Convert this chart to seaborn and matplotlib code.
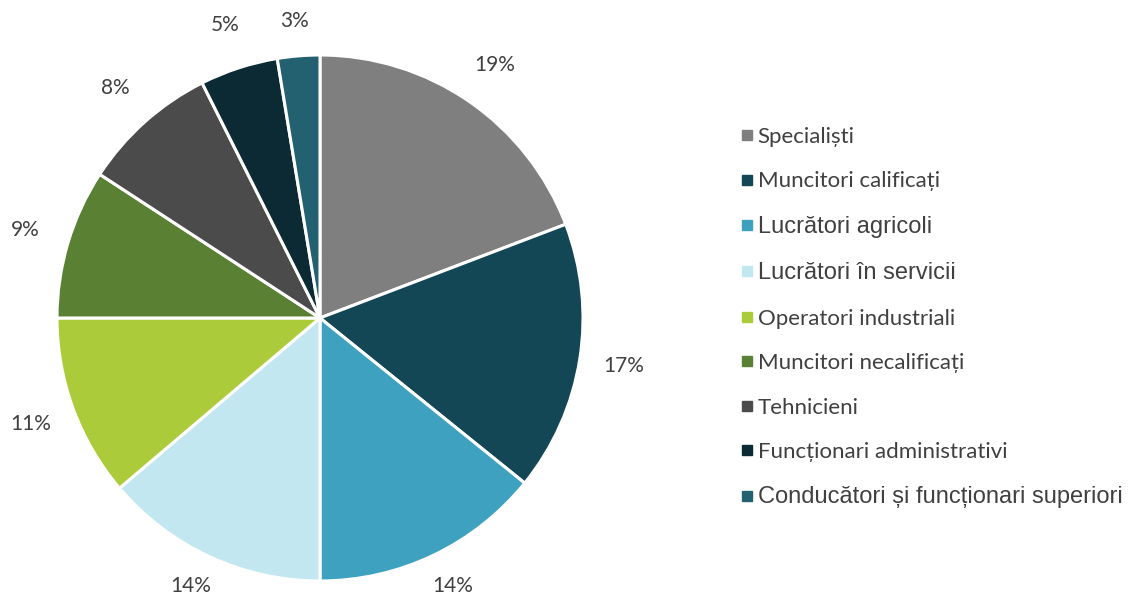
import matplotlib
matplotlib.use("Agg")
import matplotlib.pyplot as plt
from matplotlib.lines import Line2D
import seaborn as sns

# categories and shares (percent)
categories = ["Specialiști", "Muncitori calificați", "Lucrători agricoli",
              "Lucrători în servicii", "Operatori industriali",
              "Muncitori necalificați", "Tehnicieni",
              "Funcționari administrativi",
              "Conducători și funcționari superiori"]
shares = [19.2, 16.6, 14.2, 13.8, 11.2, 9.2, 8.4, 4.8, 2.6]
colors = ["#7f7f7f", "#144755", "#3ea1bf", "#c2e7f0", "#abcb3a",
          "#5a8034", "#4b4b4b", "#0c2a33", "#246170"]
# legend entries drawn in the larger, Arial-like font in the original
arial_items = ["Lucrători agricoli", "Lucrători în servicii",
               "Conducători și funcționari superiori"]

sns.set_theme(style="white")
plt.rcParams['font.family'] = ['Lato', 'DejaVu Sans']
text_col = "#404040"

fig = plt.figure(figsize=(11.3, 5.97), dpi=100)
ax = fig.add_axes([57 / 1130, 16 / 597, 526 / 1130, 526 / 597])

wedges, _, autotexts = ax.pie(
    shares, colors=colors, startangle=90, counterclock=False,
    autopct="%1.0f%%", pctdistance=1.17,
    wedgeprops=dict(edgecolor="white", linewidth=2.2),
    textprops=dict(fontsize=15, color=text_col))
# keep the labels at top / bottom inside the figure, like Excel's best fit
for t in autotexts:
    x, y = t.get_position()
    t.set_position((x, min(max(y, -1.02), 1.13)))
ax.set_xlim(-1, 1)
ax.set_ylim(-1, 1)
ax.set_aspect("equal")
ax.axis("off")

handles = [Line2D([0], [0], marker="s", linestyle="", markersize=7,
                  markerfacecolor=c, markeredgecolor=c) for c in colors]
leg = fig.legend(handles, categories, loc="upper left",
                 bbox_to_anchor=(731 / 1130, 1 - 118 / 597),
                 frameon=False, handlelength=0.6, handletextpad=0.2,
                 labelspacing=1.1, fontsize=16, borderaxespad=0)
for t in leg.get_texts():
    t.set_color(text_col)
    if t.get_text() in arial_items:
        t.set_fontfamily(['Liberation Sans', 'DejaVu Sans'])
        t.set_fontsize(17)

fig.savefig("out.png", dpi=100)
